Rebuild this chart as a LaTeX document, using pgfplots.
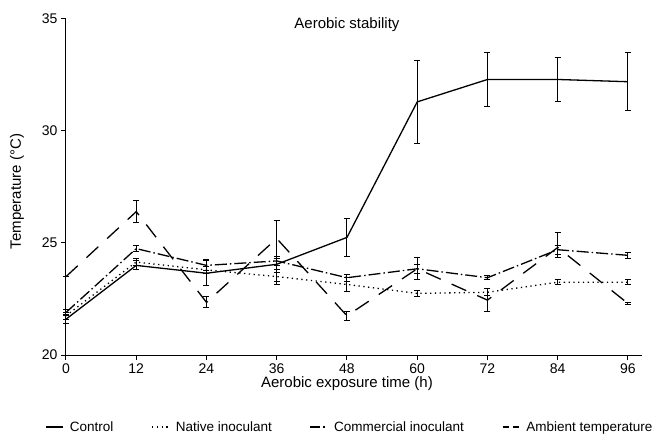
\documentclass[border=0pt]{standalone}
\usepackage{pgfplots}
\pgfplotsset{compat=1.18}
\usepackage{fontspec}
\setmainfont{Liberation Sans}

\begin{document}
\begin{tikzpicture}
\begin{axis}[
  scale only axis,
  width=576pt, height=336pt,
  xmin=0, xmax=98.4, ymin=20, ymax=35,
  axis lines=left,
  axis line style={-, line width=1pt},
  xtick={0,12,...,96},
  ytick={20,25,30,35},
  tick align=outside,
  major tick length=5pt,
  tick style={black, line width=1pt},
  ticklabel style={font=\fontsize{14}{14}\selectfont},
  /pgf/number format/assume math mode=true,
  clip=false,
  error bars/error bar style={line width=1pt, solid},
  error bars/error mark options={rotate=90, mark size=3pt, line width=1pt, solid},
  legend columns=4,
  legend style={draw=none, fill=none, at={(0.493,-0.214)}, anchor=center,
    font=\fontsize{13.5}{13.5}\selectfont,
    /tikz/every odd column/.append style={column sep=4pt},
    /tikz/every even column/.append style={column sep=36pt}},
  legend cell align=left,
]
% control
\addplot[black, line width=1.3pt, solid, forget plot, error bars/.cd, y dir=both, y explicit] coordinates {
  (0,21.6) +- (0,0.2)
  (12,24.0) +- (0,0.2)
  (24,23.65) +- (0,0.55)
  (36,24.05) +- (0,0.25)
  (48,25.25) +- (0,0.85)
  (60,31.3) +- (0,1.85)
  (72,32.3) +- (0,1.2)
  (84,32.3) +- (0,1.0)
  (96,32.2) +- (0,1.3)
};
% native inoculant
\addplot[black, line width=1.3pt, dash pattern=on 1.3pt off 3.5pt, forget plot, error bars/.cd, y dir=both, y explicit] coordinates {
  (0,21.75) +- (0,0.15)
  (12,24.15) +- (0,0.15)
  (24,23.8) +- (0,0.15)
  (36,23.5) +- (0,0.2)
  (48,23.15) +- (0,0.3)
  (60,22.75) +- (0,0.12)
  (72,22.8) +- (0,0.15)
  (84,23.25) +- (0,0.12)
  (96,23.25) +- (0,0.12)
};
% commercial inoculant
\addplot[black, line width=1.3pt, dash pattern=on 12pt off 3pt on 1.5pt off 3pt, forget plot, error bars/.cd, y dir=both, y explicit] coordinates {
  (0,21.9) +- (0,0.12)
  (12,24.75) +- (0,0.12)
  (24,24.0) +- (0,0.25)
  (36,24.2) +- (0,0.2)
  (48,23.45) +- (0,0.15)
  (60,23.85) +- (0,0.5)
  (72,23.45) +- (0,0.1)
  (84,24.7) +- (0,0.2)
  (96,24.45) +- (0,0.12)
};
% ambient temperature
\addplot[black, line width=1.3pt, dash pattern=on 16pt off 12pt, forget plot, error bars/.cd, y dir=both, y explicit] coordinates {
  (0,23.5) +- (0,0)
  (12,26.4) +- (0,0.5)
  (24,22.35) +- (0,0.25)
  (36,25.2) += (0,0.8) -= (0,2.05)
  (48,21.75) +- (0,0.2)
  (60,23.85) +- (0,0.2)
  (72,22.45) +- (0,0.5)
  (84,24.8) += (0,0.65) -= (0,0.45)
  (96,22.3) +- (0,0.05)
};
\addlegendimage{black, line width=1.3pt, solid}
\addlegendentry{Control}
\addlegendimage{black, line width=1.3pt, dash pattern=on 1.3pt off 3.5pt}
\addlegendentry{Native inoculant}
\addlegendimage{black, line width=1.3pt, dash pattern=on 10pt off 3pt on 1.5pt off 3pt}
\addlegendentry{Commercial inoculant}
\addlegendimage{black, line width=1.3pt, dash pattern=on 6pt off 4pt}
\addlegendentry{Ambient temperature}

\node[font=\fontsize{15}{15}\selectfont] at (axis cs:48,34.75) {Aerobic stability};
\node[font=\fontsize{15}{15}\selectfont] at ([yshift=-29pt]axis cs:48,20) {Aerobic exposure time (h)};
\node[font=\fontsize{15}{15}\selectfont, rotate=90] at ([xshift=-49pt]axis cs:0,27.3) {Temperature (°C)};
% picture frame as in the reference (invisible)
\path ([xshift=-66pt,yshift=19pt]axis cs:0,35) rectangle ([xshift=17pt,yshift=-84pt]axis cs:98.4,20);
\end{axis}
\end{tikzpicture}
\end{document}
